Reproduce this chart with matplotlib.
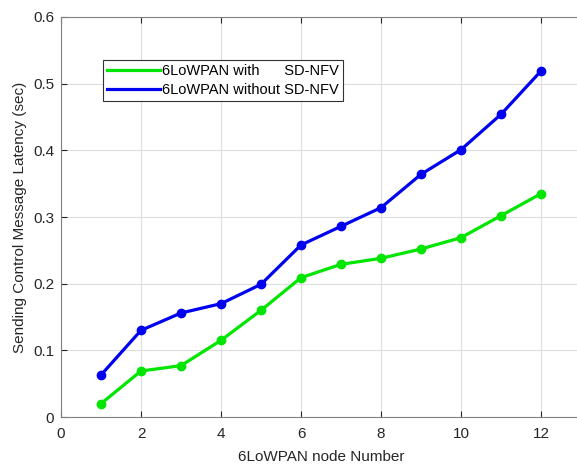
import matplotlib
matplotlib.use('Agg')
import matplotlib.pyplot as plt
from matplotlib.lines import Line2D

plt.rcParams['font.family'] = ['Liberation Sans', 'DejaVu Sans']

# node numbers and latency (sec)
nodes = [1, 2, 3, 4, 5, 6, 7, 8, 9, 10, 11, 12]
with_sdnfv = [0.020, 0.069, 0.077, 0.115, 0.160, 0.209, 0.229, 0.238, 0.252, 0.269, 0.302, 0.335]
without_sdnfv = [0.063, 0.130, 0.156, 0.170, 0.199, 0.258, 0.286, 0.314, 0.364, 0.401, 0.454, 0.519]

xticks = [0, 2, 4, 6, 8, 10, 12]
yticks = [0, 0.1, 0.2, 0.3, 0.4, 0.5, 0.6]
ytick_labels = ['0', '0.1', '0.2', '0.3', '0.4', '0.5', '0.6']
labels = ['6LoWPAN with      SD-NFV', '6LoWPAN without SD-NFV']
colors = ['#00e600', '#0000f0']

fig = plt.figure(figsize=(5.77, 4.69), dpi=100)
ax = fig.add_axes([61/577, 52/469, 520/577, 400/469])

ax.plot(nodes, with_sdnfv, color=colors[0], lw=2.3, marker='o', ms=6)
ax.plot(nodes, without_sdnfv, color=colors[1], lw=2.3, marker='o', ms=6)

ax.set_xlim(0, 13)
ax.set_ylim(0, 0.6)
ax.set_xticks(xticks)
ax.set_yticks(yticks)
ax.set_yticklabels(ytick_labels)
ax.grid(True, color='#dddddd', lw=0.8)
ax.set_axisbelow(True)
ax.tick_params(direction='in', top=True, right=False, labelsize=11,
               colors='#262626', length=4)
ax.tick_params(axis='x', pad=7)
ax.tick_params(axis='y', pad=5)
ax.spines['right'].set_visible(False)
for s in ax.spines.values():
    s.set_color('#808080')

ax.set_xlabel('6LoWPAN node Number', fontsize=11, color='#262626', labelpad=7)
ax.set_ylabel('Sending Control Message Latency (sec)', fontsize=11, color='#262626')

handles = [Line2D([], [], color=c, lw=2.3) for c in colors]
leg = ax.legend(handles, labels, loc='upper left', bbox_to_anchor=(42/520, 357/400),
                fontsize=10.5, fancybox=False, framealpha=1, edgecolor='#333333',
                handlelength=3.6, borderpad=0.3, labelspacing=0.3,
                handletextpad=0.15, borderaxespad=0)
leg.get_frame().set_linewidth(0.8)

fig.savefig('out.png', dpi=100)
